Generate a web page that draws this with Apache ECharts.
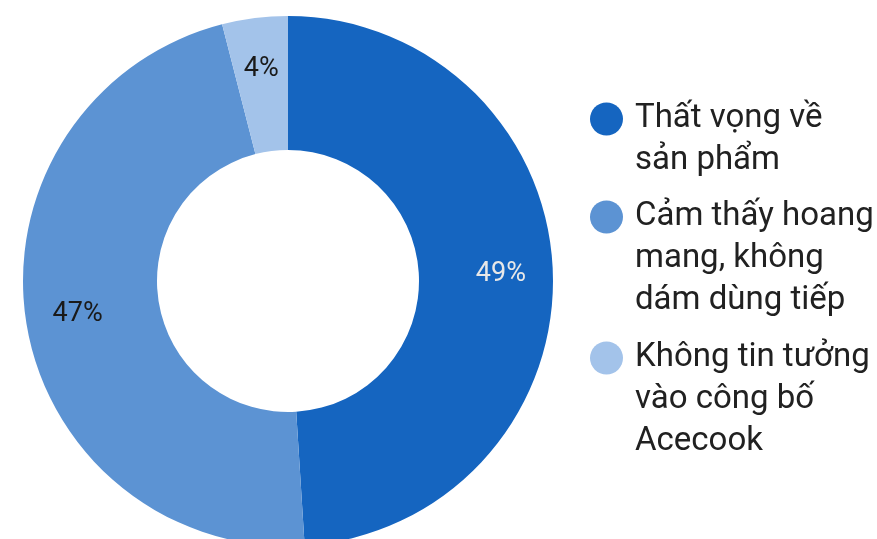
<!DOCTYPE html>
<html>
<head>
<meta charset="utf-8">
<script src="https://cdn.jsdelivr.net/npm/echarts@6/dist/echarts.min.js"></script>
<style>
html,body{margin:0;padding:0;background:#fff;}
#chart{width:877px;height:539px;}
</style>
</head>
<body>
<div id="chart"></div>
<script>
// ---- data ----
var categories = ['Thất vọng về sản phẩm', 'Cảm thấy hoang mang, không dám dùng tiếp', 'Không tin tưởng vào công bố Acecook'];
var values = [49, 47, 4];
var legendLines = [
  ['Thất vọng về', 'sản phẩm'],
  ['Cảm thấy hoang', 'mang, không', 'dám dùng tiếp'],
  ['Không tin tưởng', 'vào công bố', 'Acecook']
];
var colors = ['#1565C0', '#5C93D3', '#A3C3EA'];
var labelColors = ['#E8E8E8', '#1A1A1A', '#1A1A1A'];

// ---- chart ----
var chart = echarts.init(document.getElementById('chart'), null, {renderer: 'canvas'});
var FONT = 'Roboto, "Noto Sans", sans-serif';
var LH = 42;

var pieData = categories.map(function (c, i) {
  return { name: c, value: values[i], itemStyle: { color: colors[i] } };
});
var labelData = categories.map(function (c, i) {
  return { name: c, value: values[i], label: { color: labelColors[i] } };
});

var legendTops = [56, 112, 253];
var legends = categories.map(function (c, i) {
  return {
    data: [c],
    orient: 'vertical',
    left: 590,
    top: legendTops[i],
    padding: 0,
    icon: 'circle',
    itemWidth: 47,
    itemHeight: 33,
    selectedMode: false,
    formatter: function (name) {
      var lines = legendLines[categories.indexOf(name)];
      var pre = [];
      for (var k = 1; k < lines.length; k++) pre.push('');
      return pre.concat(lines).join('\n');
    },
    textStyle: {
      fontFamily: FONT,
      fontSize: 33,
      lineHeight: LH,
      color: '#212121'
    }
  };
});

chart.setOption({
  backgroundColor: '#ffffff',
  animation: false,
  legend: legends,
  series: [
    {
      type: 'pie',
      center: [288, 281],
      radius: [131, 265],
      startAngle: 90,
      clockwise: true,
      avoidLabelOverlap: false,
      silent: true,
      label: { show: false },
      labelLine: { show: false },
      itemStyle: { borderWidth: 0 },
      emphasis: { disabled: true },
      data: pieData
    },
    {
      type: 'pie',
      center: [288, 281],
      radius: [152, 268],
      startAngle: 90,
      clockwise: true,
      avoidLabelOverlap: false,
      silent: true,
      itemStyle: { color: 'rgba(0,0,0,0)', borderWidth: 0 },
      emphasis: { disabled: true },
      labelLine: { show: false },
      label: {
        show: true,
        position: 'inside',
        formatter: '{c}%',
        fontFamily: FONT,
        fontSize: 27,
        textBorderWidth: 0
      },
      data: labelData
    }
  ]
});
</script>
</body>
</html>
